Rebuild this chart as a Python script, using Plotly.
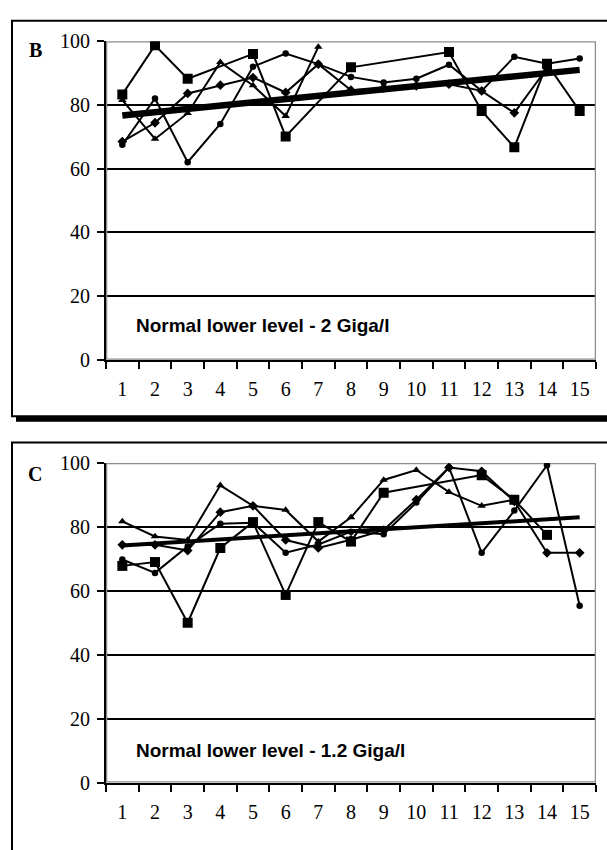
import plotly.graph_objects as go

W, H = 607, 850

# ---- data -------------------------------------------------------------
categories = [str(i) for i in range(1, 16)]
y_ticks = [0, 20, 40, 60, 80, 100]

# Panel B
b_square = [83.3, 98.7, 88.2, None, 96.0, 70.1, None, 91.8, None, None, 96.6, 78.1, 66.7, 92.9, 78.1]
b_diamond = [68.5, 74.4, 83.6, 86.2, 88.6, 83.9, 92.8, 84.6, 85.3, 86.0, 86.5, 84.4, 77.5, 91.5, None]
b_triangle = [81.5, 69.3, 77.4, 93.4, 86.1, 76.5, 98.2, None, None, None, None, None, None, None, None]
b_circle = [67.5, 82.0, 62.0, 74.0, 92.0, 96.1, 92.8, 88.8, 87.0, 88.2, 92.6, 84.4, 95.1, 92.9, 94.6]
b_trend_x = ["1", "15"]
b_trend = [76.7, 91.0]

# Panel C
c_square = [67.8, 69.0, 50.0, 73.4, 81.5, 58.7, 81.5, 75.4, 90.7, None, None, 96.2, 88.5, 77.5, None]
c_diamond = [74.4, 74.4, 72.6, 84.6, 86.6, 75.9, 73.4, 76.0, 79.0, 88.5, 98.6, 97.4, 88.0, 71.9, 71.9]
c_triangle = [81.7, 77.0, 75.9, 93.0, 86.6, 85.3, 75.4, 83.0, 94.7, 97.8, 90.9, 86.6, 88.5, None, None]
c_circle = [69.8, 65.6, 73.9, 81.0, 81.3, 71.9, 74.5, 78.5, 77.7, 87.6, 98.6, 71.9, 85.1, 99.3, 55.3]
c_trend_x = ["1", "15"]
c_trend = [74.2, 83.0]

panel_letters = ["B", "C"]
panel_notes = ["Normal lower level - 2 Giga/l", "Normal lower level - 1.2 Giga/l"]

# ---- layout helpers (pixel -> paper) ----------------------------------
def px_x(x):
    return x / W


def px_y(y):
    return 1 - y / H


plot_left, plot_right = 106, 596
panels = [
    dict(top=31, bottom=358, box_top=10, box_bottom=416, letter_y=40, note_y=323),
    dict(top=464, bottom=792, box_top=443, box_bottom=None, letter_y=475, note_y=759),
]

fig = go.Figure()

series_sets = [
    (b_square, b_diamond, b_triangle, b_circle, b_trend_x, b_trend),
    (c_square, c_diamond, c_triangle, c_circle, c_trend_x, c_trend),
]

line_style = dict(color="black", width=2)
for i, (sq, di, tr, ci, tx, tv) in enumerate(series_sets):
    xa = "x" if i == 0 else "x2"
    ya = "y" if i == 0 else "y2"
    for vals, sym, size in [
        (ci, "circle", 6.5),
        (tr, "triangle-up", 7.5),
        (di, "diamond", 7.5),
        (sq, "square", 10),
    ]:
        fig.add_trace(go.Scatter(
            x=categories, y=vals, mode="lines+markers",
            line=line_style, connectgaps=True,
            marker=dict(symbol=sym, size=size, color="black", line=dict(width=0)),
            xaxis=xa, yaxis=ya, showlegend=False, hoverinfo="skip",
        ))
    fig.add_trace(go.Scatter(
        x=tx, y=tv, mode="lines",
        line=dict(color="black", width=6.5 if i == 0 else 4),
        xaxis=xa, yaxis=ya, showlegend=False, hoverinfo="skip",
    ))

tick_font = dict(family="Liberation Serif", size=20, color="black")
axis_common = dict(
    showline=True, linecolor="black", linewidth=2,
    ticks="outside", ticklen=7, tickwidth=2, tickcolor="black",
    tickfont=tick_font, zeroline=False,
)

layout = dict(
    width=W, height=H,
    margin=dict(l=0, r=0, t=0, b=0),
    paper_bgcolor="white", plot_bgcolor="white",
    showlegend=False,
)

shapes = []
annotations = []
for i, p in enumerate(panels):
    sfx = "" if i == 0 else "2"
    xdom = [px_x(plot_left), px_x(plot_right)]
    ydom = [px_y(p["bottom"]), px_y(p["top"])]
    layout["xaxis" + sfx] = dict(
        axis_common, domain=xdom, type="category",
        categoryorder="array", categoryarray=categories,
        range=[-0.5, 14.5], tickson="boundaries", showgrid=False,
        anchor="y" + sfx, ticklabelstandoff=10,
    )
    layout["yaxis" + sfx] = dict(
        axis_common, domain=ydom, range=[0, 100], tickvals=y_ticks,
        showgrid=True, gridcolor="black", gridwidth=1.5,
        anchor="x" + sfx, ticklabelstandoff=3,
    )
    # grey plot-area frame
    shapes.append(dict(
        type="rect", xref="x" + sfx, yref="y" + sfx,
        x0=-0.5, x1=14.5, y0=0, y1=100,
        line=dict(color="#8c8c8c", width=2.5), layer="between",
    ))
    # outer chart frame
    y_bot = p["box_bottom"] if p["box_bottom"] is not None else H + 20
    shapes.append(dict(
        type="rect", xref="paper", yref="paper",
        x0=px_x(12), x1=px_x(W + 20), y0=px_y(y_bot), y1=px_y(p["box_top"]),
        line=dict(color="black", width=2), layer="below",
    ))
    if p["box_bottom"] is not None:
        shapes.append(dict(
            type="line", xref="paper", yref="paper",
            x0=px_x(16), x1=px_x(W + 20),
            y0=px_y(y_bot + 3), y1=px_y(y_bot + 3),
            line=dict(color="black", width=5), layer="below",
        ))
    annotations.append(dict(
        text="<b>%s</b>" % panel_letters[i], xref="paper", yref="paper",
        x=px_x(35), y=px_y(p["letter_y"]), showarrow=False,
        font=dict(family="Liberation Serif", size=20, color="black"),
        xanchor="center", yanchor="middle",
    ))
    annotations.append(dict(
        text="<b>%s</b>" % panel_notes[i], xref="paper", yref="paper",
        x=px_x(134), y=px_y(p["note_y"]), showarrow=False,
        font=dict(family="Liberation Sans", size=19, color="black"),
        xanchor="left", yanchor="middle",
    ))

layout["shapes"] = shapes
layout["annotations"] = annotations
fig.update_layout(**layout)

fig.write_html("out.html")
